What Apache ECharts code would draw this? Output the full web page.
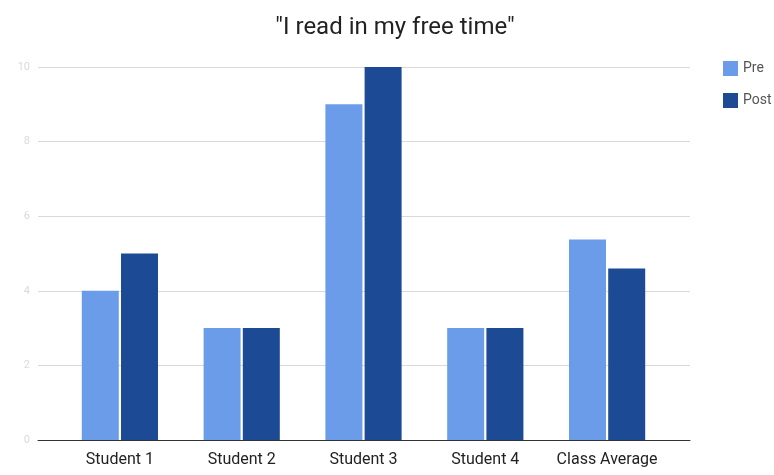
<!DOCTYPE html>
<html><head><meta charset="utf-8">
<script src="https://cdn.jsdelivr.net/npm/echarts@6/dist/echarts.min.js"></script>
<style>html,body{margin:0;padding:0;background:#fff}#c{width:774px;height:475px}</style>
</head><body><div id="c"></div>
<script>
var categories = ['Student 1', 'Student 2', 'Student 3', 'Student 4', 'Class Average'];
var preValues = [4, 3, 9, 3, 5.375];
var postValues = [5, 3, 10, 3, 4.6];
var seriesNames = ['Pre', 'Post'];
var yMax = 10, yStep = 2;

var chart = echarts.init(document.getElementById('c'));
var font = 'Roboto, "Noto Sans", sans-serif';
chart.setOption({
  animation: false,
  textStyle: { fontFamily: font },
  title: {
    text: '"I read in my free time"',
    left: 390, top: 11, textAlign: 'center',
    textStyle: { fontSize: 24, fontWeight: 'normal', color: '#222', fontFamily: font }
  },
  legend: {
    orient: 'vertical', left: 718, top: 56,
    itemWidth: 15, itemHeight: 15, itemGap: 17,
    icon: 'rect',
    textStyle: { fontSize: 14, color: '#555', fontFamily: font },
    data: seriesNames
  },
  grid: [
    { left: 38, right: 84, top: 67, bottom: 35 },
    { left: 59, right: 106, top: 67, bottom: 35 }
  ],
  xAxis: [
    { type: 'category', gridIndex: 0, data: categories, show: true,
      axisLine: { show: true, lineStyle: { color: '#333', width: 1 } },
      axisTick: { show: false }, axisLabel: { show: false } },
    { type: 'category', gridIndex: 1, data: categories,
      axisLine: { show: false }, axisTick: { show: false },
      axisLabel: { interval: 0, fontSize: 16, color: '#222', margin: 12, fontFamily: font } }
  ],
  yAxis: [
    { type: 'value', gridIndex: 0, min: 0, max: yMax, interval: yStep,
      axisLine: { show: false }, axisTick: { show: false },
      axisLabel: { fontSize: 11, color: '#dadada', margin: 8 },
      splitLine: { lineStyle: { color: '#d9d9d9', width: 1 } } },
    { type: 'value', gridIndex: 1, min: 0, max: yMax, interval: yStep, show: false }
  ],
  series: [
    { name: seriesNames[0], type: 'bar', xAxisIndex: 1, yAxisIndex: 1, data: preValues,
      barWidth: 37, barGap: '6%', itemStyle: { color: '#6b9cea' } },
    { name: seriesNames[1], type: 'bar', xAxisIndex: 1, yAxisIndex: 1, data: postValues,
      barWidth: 37, barGap: '6%', itemStyle: { color: '#1c4a94' } }
  ]
});
</script></body></html>
